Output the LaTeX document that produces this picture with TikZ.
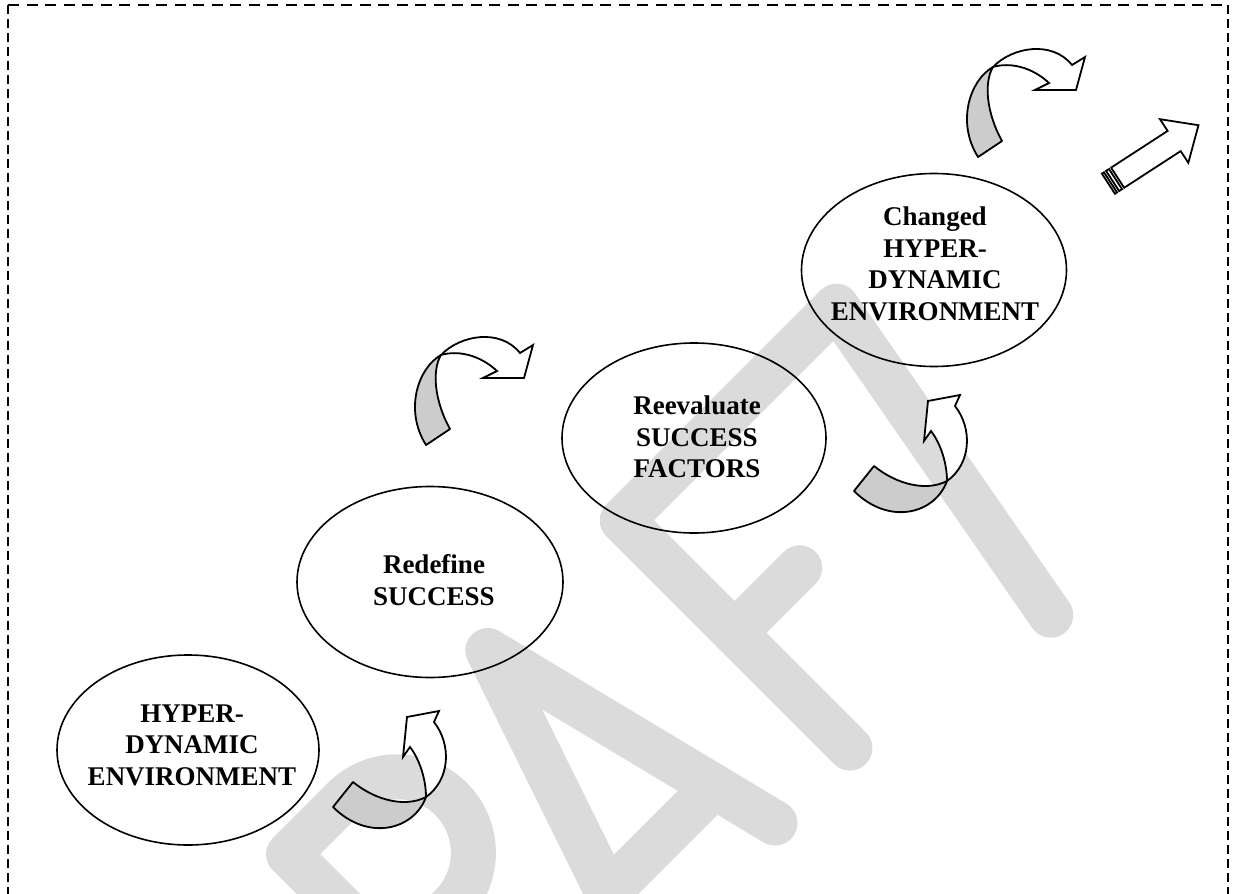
\documentclass[tikz,border=0pt]{standalone}
\usepackage{fontspec}
\setmainfont{Liberation Serif}
\usetikzlibrary{shapes.geometric}
\definecolor{wmgray}{RGB}{219,219,219}
\definecolor{ribbongray}{RGB}{204,204,204}
\begin{document}
\begin{tikzpicture}[x=0.5pt,y=-0.5pt,
  bubble/.style={draw=black, line width=0.8pt, ellipse, inner sep=0pt},
  bubbletext/.style={align=center, inner sep=0pt,
    font=\fontsize{13.5}{15.75}\selectfont\bfseries},
  ribbon/.style={draw=black, line width=0.9pt, fill=ribbongray, line join=round},
  face/.style={draw=black, line width=0.9pt, fill=white, line join=miter},
  wm/.style={draw=wmgray, line width=22.5pt, line cap=round, line join=round},
  hborder/.style={line width=0.9pt, dash pattern=on 5.5pt off 3.75pt},
  vborder/.style={line width=0.9pt, dash pattern=on 4.65pt off 2.35pt}]
\useasboundingbox (0,0) rectangle (1233,894);

% watermark
\begin{scope}
  \clip (0,0) rectangle (1233,894);
  \begin{scope}[x={(0.35355pt,0.35355pt)}, y={(-0.35355pt,0.35355pt)}]
    \draw[wm] (-400,-1130) -- (-400,-808) -- (-322,-808)
      arc[start angle=90, end angle=-90, radius=76] -- (-400,-960);
    \draw[wm] (-345,-960) -- (-250,-1130);
    \draw[wm] (-225,-1130) -- (-115,-805) -- (-34,-1130);
    \draw[wm] (-202,-1061) -- (-51,-1061);
    \draw[wm] (72,-1130) -- (72,-808) -- (375,-808) -- (308,-1178);
    \draw[wm] (72,-967) -- (164,-967);
  \end{scope}
\end{scope}

% ellipses
\node[bubble, minimum width=131pt, minimum height=95pt] (e1) at (188,750) {};
\node[bubble, minimum width=133pt, minimum height=95.5pt] (e2) at (430,582) {};
\node[bubble, minimum width=132pt, minimum height=95pt] (e3) at (694,438) {};
\node[bubble, minimum width=132.5pt, minimum height=96.5pt] (e4) at (934,270) {};

\node[bubbletext] (t1) at (192,745) {HYPER-\\DYNAMIC\\ENVIRONMENT};
\node[bubbletext] (t2) at (434,580) {Redefine\\SUCCESS};
\node[bubbletext] (t3) at (697,437) {Reevaluate\\SUCCESS\\FACTORS};
\node[bubbletext] (t4) at (935,264) {Changed\\HYPER-\\DYNAMIC\\ENVIRONMENT};

% curved up arrows
\foreach \dx/\dy in {0/0, 521/-316}{
  \begin{scope}[shift={(\dx,\dy)}]
    \draw[ribbon] (426,797) .. controls (414,830) and (368,842) .. (333,807)
      -- (353,782) .. controls (375,800) and (405,808) .. (426,797) -- cycle;
    \draw[face] (426,797) .. controls (450,780) and (452,745) .. (434,722)
      -- (439,711) -- (407,717) -- (403,757) -- (410,747)
      .. controls (420,760) and (426,780) .. (426,797) -- cycle;
  \end{scope}
}

% curved right arrows
\foreach \dx/\dy in {0/0, 552/-288}{
  \begin{scope}[shift={(\dx,\dy)}]
    \draw[ribbon] (441,355) .. controls (418,368) and (404,410) .. (426,445)
      -- (450,429) .. controls (434,400) and (432,370) .. (441,355) -- cycle;
    \draw[face] (441,355) .. controls (460,335) and (500,328) .. (520,353)
      -- (533,345) -- (524,378) -- (483,378) -- (497,371)
      .. controls (480,355) and (458,350) .. (441,355) -- cycle;
  \end{scope}
}

% striped arrow
\begin{scope}[shift={(1108.4,183.7)}, rotate=33]
  \draw[face] (0,-12) rectangle (2.5,12);
  \draw[face] (5,-12) rectangle (8.5,12);
  \draw[face] (11,-12) -- (78.4,-12) -- (78.4,-26) -- (107.4,0)
    -- (78.4,26) -- (78.4,12) -- (11,12) -- cycle;
\end{scope}

% dashed frame
\coordinate (tl) at (8,5);
\coordinate (tr) at (1228,5);
\coordinate (bl) at (8,894);
\coordinate (br) at (1228,894);
\draw[hborder] (tl) -- (tr);
\draw[vborder] (tl) -- (bl);
\draw[vborder] (tr) -- (br);
\end{tikzpicture}
\end{document}
